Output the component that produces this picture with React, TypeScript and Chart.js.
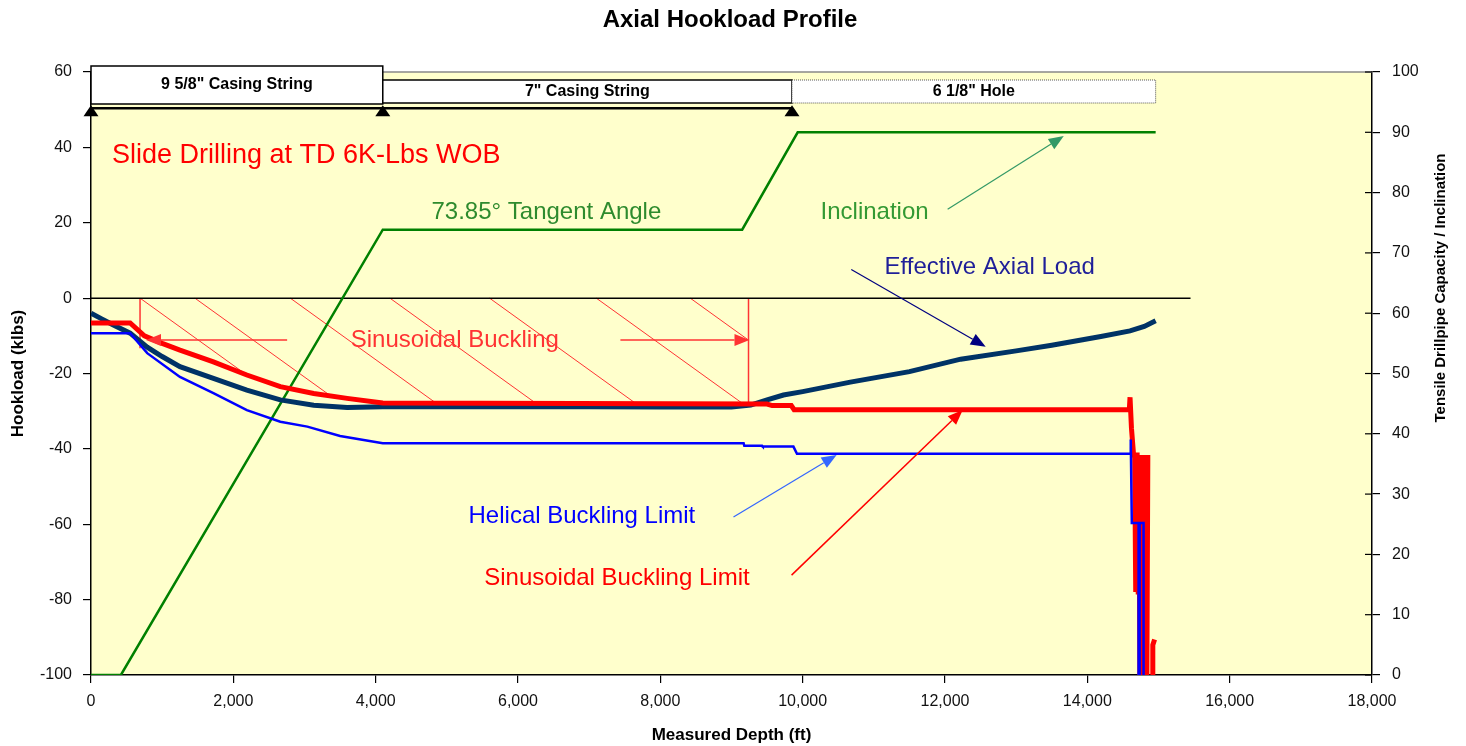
import React, { useEffect, useRef } from "react";
import { Chart, registerables } from "chart.js";

Chart.register(...registerables);

const FONT = "'Liberation Sans', Arial, sans-serif";

// ---- tick labels ----
const depthTicks = [0, 2000, 4000, 6000, 8000, 10000, 12000, 14000, 16000, 18000];
const hookloadTicks = [-100, -80, -60, -40, -20, 0, 20, 40, 60];
const inclTicks = [0, 10, 20, 30, 40, 50, 60, 70, 80, 90, 100];

// ---- Inclination (right axis, deg) ----
const inclDepth = [0, 420, 4100, 9150, 9930, 14960];
const inclination = [0, 0, 73.85, 73.85, 90, 90];

// ---- Effective Axial Load (kips) ----
const loadDepth = [0, 150, 300, 550, 790, 1000, 1250, 1720, 2190, 2660, 3130, 3600, 4100, 5000, 6000, 7000, 8000, 9000, 9270, 9500, 9730, 10000, 10670, 11500, 12220, 13000, 13500, 14190, 14600, 14800, 14960];
const effectiveAxialLoad = [-4, -5.5, -7, -9.3, -13, -15.5, -18.2, -21.3, -24.4, -27, -28.4, -29, -28.8, -28.8, -28.8, -28.8, -28.9, -28.9, -28.4, -27, -25.7, -24.8, -22.3, -19.5, -16.2, -14, -12.5, -10.2, -8.7, -7.5, -6];

// ---- Sinusoidal Buckling Limit (kips) ----
const sinDepth = [0, 550, 750, 1000, 1250, 1720, 2190, 2660, 3130, 3600, 4100, 9500, 9570, 9840, 9880, 14590, 14600, 14620, 14650, 14665, 14680, 14690, 14700, 14715, 14725, 14740, 14755, 14770, 14785, 14800, 14815, 14835, 14850, 14900, 14920, 14920, 14945];
const sinusoidalLimit = [-6.6, -6.6, -10, -12, -13.8, -16.9, -20.4, -23.5, -25.3, -26.6, -27.8, -28.1, -28.5, -28.5, -29.6, -29.6, -26.3, -34.5, -41.6, -41.6, -78, -41.6, -41.6, -78, -41.6, -106, -41.6, -106, -41.6, -106, -41.6, -106, -41.6, null, -106, -92, -90.6];

// ---- Helical Buckling Limit (kips) ----
const helDepth = [0, 550, 790, 1250, 1720, 2190, 2660, 3040, 3500, 4100, 9170, 9180, 9430, 9440, 9870, 9920, 14600, 14610, 14625, 14720, 14720, 14735, 14735, 14790, 14790];
const helicalLimit = [-9.3, -9.3, -14.6, -20.9, -25.2, -29.7, -32.8, -34.1, -36.6, -38.5, -38.5, -39.2, -39.2, -39.4, -39.4, -41.3, -41.3, -37.5, -59.7, -59.7, -106, -106, -59.7, -59.7, -106];

// ---- zero reference line ----
const zeroDepth = [0, 15450];
const zeroLoad = [0, 0];

// ---- casing sections ----
const sectionLabels = ['9 5/8" Casing String', '7" Casing String', '6 1/8" Hole'];
const sectionStart = [0, 4100, 9850];
const sectionEnd = [4100, 9850, 14960];
const shoeDepths = [0, 4100, 9850];
const shoeLevel = 50.4;

// ---- sinusoidal buckling zone ----
const bucklingZoneStart = 689;
const bucklingZoneEnd = 9239;
const hatchStarts = [689, 1460, 2800, 4200, 5600, 7100, 8420];
const hatchSlope = 13.6; // kips per 1000 ft

// ---- annotation arrows ----
const arrowFromDepth = [12037, 10683, 9028, 9844, 2756, 7439];
const arrowFromLoad = [23.6, 7.6, -58.1, -73.5, -11.1, -11.1];
const arrowToDepth = [13669, 12572, 10477, 12249, 773, 9253];
const arrowToLoad = [43.0, -12.9, -41.6, -29.7, -11.1, -11.1];
const arrowColors = ["#339966", "#000080", "#3366FF", "#FF0000", "#FF3333", "#FF3333"];

// ---- annotation texts ----
const noteText = ["Slide Drilling at TD 6K-Lbs WOB", "73.85° Tangent Angle", "Inclination", "Effective Axial Load", "Sinusoidal Buckling", "Helical Buckling Limit", "Sinusoidal Buckling Limit"];
const noteDepth = [295, 6399, 11011, 12628, 5112, 6898, 7390];
const noteLoad = [37.9, 22.8, 22.8, 8.2, -11.1, -57.8, -74.3];
const noteColors = ["#FF0000", "#2E8B2E", "#339933", "#1F1F99", "#FF3333", "#0000FF", "#FF0000"];

const pts = (xs: number[], ys: (number | null)[]) => ys.map((y, i) => ({ x: xs[i], y }));

function sinAt(d: number): number {
  for (let i = 1; i < sinDepth.length; i++) {
    if (sinDepth[i] >= d) {
      const d0 = sinDepth[i - 1], d1 = sinDepth[i];
      const v0 = sinusoidalLimit[i - 1] as number, v1 = sinusoidalLimit[i] as number;
      if (d1 === d0) return v1;
      return v0 + ((v1 - v0) * (d - d0)) / (d1 - d0);
    }
  }
  return sinusoidalLimit[sinusoidalLimit.length - 1] as number;
}

function arrow(ctx: CanvasRenderingContext2D, x1: number, y1: number, x2: number, y2: number, color: string, lw: number, hl: number, hw: number) {
  const ang = Math.atan2(y2 - y1, x2 - x1);
  const bx = x2 - hl * Math.cos(ang), by = y2 - hl * Math.sin(ang);
  ctx.strokeStyle = color;
  ctx.lineWidth = lw;
  ctx.beginPath();
  ctx.moveTo(x1, y1);
  ctx.lineTo(bx, by);
  ctx.stroke();
  ctx.fillStyle = color;
  ctx.beginPath();
  ctx.moveTo(x2, y2);
  ctx.lineTo(bx + hw * Math.sin(ang), by - hw * Math.cos(ang));
  ctx.lineTo(bx - hw * Math.sin(ang), by + hw * Math.cos(ang));
  ctx.closePath();
  ctx.fill();
}

const overlay = {
  id: "overlay",
  beforeDraw(chart: any) {
    const { ctx, chartArea: a } = chart;
    ctx.save();
    ctx.fillStyle = "#FFFFFF";
    ctx.fillRect(0, 0, chart.width, chart.height);
    ctx.fillStyle = "#FFFFCC";
    ctx.fillRect(a.left, a.top, a.right - a.left, a.bottom - a.top);
    ctx.restore();
  },
  beforeDatasetsDraw(chart: any) {
    const { ctx } = chart;
    const sx = chart.scales.x, sy = chart.scales.y;
    ctx.save();
    ctx.strokeStyle = "#FF3333";
    ctx.lineWidth = 1;
    hatchStarts.forEach((s) => {
      let endD = s;
      for (let d = s; d <= bucklingZoneEnd; d += 5) {
        endD = d;
        const lv = -(d - s) * hatchSlope / 1000;
        if (lv <= sinAt(d)) break;
      }
      const endV = -(endD - s) * hatchSlope / 1000;
      ctx.beginPath();
      ctx.moveTo(sx.getPixelForValue(s), sy.getPixelForValue(0));
      ctx.lineTo(sx.getPixelForValue(endD), sy.getPixelForValue(endV));
      ctx.stroke();
    });
    ctx.lineWidth = 1.5;
    [bucklingZoneStart, bucklingZoneEnd].forEach((d, i) => {
      const bottom = i === 0 ? -13.3 : sinAt(d);
      ctx.beginPath();
      ctx.moveTo(sx.getPixelForValue(d), sy.getPixelForValue(0));
      ctx.lineTo(sx.getPixelForValue(d), sy.getPixelForValue(bottom));
      ctx.stroke();
    });
    ctx.restore();
  },
  afterDraw(chart: any) {
    const { ctx, chartArea: a } = chart;
    const sx = chart.scales.x, sy = chart.scales.y, sy2 = chart.scales.y2;
    ctx.save();
    ctx.strokeStyle = "#888888";
    ctx.lineWidth = 1.5;
    ctx.beginPath();
    ctx.moveTo(a.left, a.top);
    ctx.lineTo(a.right, a.top);
    ctx.stroke();
    ctx.strokeStyle = "#000";
    ctx.lineWidth = 1.2;
    inclTicks.forEach((v) => {
      const y = sy2.getPixelForValue(v);
      ctx.beginPath();
      ctx.moveTo(a.right - 7, y);
      ctx.lineTo(a.right, y);
      ctx.stroke();
    });

    for (let i = 0; i < arrowFromDepth.length; i++) {
      arrow(
        ctx,
        sx.getPixelForValue(arrowFromDepth[i]),
        sy.getPixelForValue(arrowFromLoad[i]),
        sx.getPixelForValue(arrowToDepth[i]),
        sy.getPixelForValue(arrowToLoad[i]),
        arrowColors[i],
        i >= 3 ? 1.5 : 1.2,
        15,
        6
      );
    }

    ctx.textBaseline = "middle";
    for (let i = 0; i < noteText.length; i++) {
      ctx.fillStyle = noteColors[i];
      ctx.font = (i === 0 ? "27px " : "24px ") + FONT;
      ctx.textAlign = i === 0 ? "left" : "center";
      ctx.fillText(noteText[i], sx.getPixelForValue(noteDepth[i]), sy.getPixelForValue(noteLoad[i]));
    }

    const shoeY = sy.getPixelForValue(shoeLevel);
    ctx.fillStyle = "#000";
    shoeDepths.forEach((d) => {
      const x = sx.getPixelForValue(d);
      ctx.beginPath();
      ctx.moveTo(x, shoeY - 3);
      ctx.lineTo(x + 7.5, shoeY + 8);
      ctx.lineTo(x - 7.5, shoeY + 8);
      ctx.closePath();
      ctx.fill();
    });

    const boxTop = [a.top - 6, a.top + 8, a.top + 8];
    const boxBottom = [a.top + 32, a.top + 31, a.top + 31];
    for (let i = 0; i < sectionLabels.length; i++) {
      const x0 = sx.getPixelForValue(sectionStart[i]);
      const x1 = sx.getPixelForValue(sectionEnd[i]);
      ctx.fillStyle = "#FFFFFF";
      ctx.fillRect(x0, boxTop[i], x1 - x0, boxBottom[i] - boxTop[i]);
      ctx.strokeStyle = i === 2 ? "#555" : "#000";
      ctx.lineWidth = i === 2 ? 1 : 1.5;
      ctx.setLineDash(i === 2 ? [1, 1] : []);
      ctx.strokeRect(x0, boxTop[i], x1 - x0, boxBottom[i] - boxTop[i]);
      ctx.setLineDash([]);
      ctx.fillStyle = "#000";
      ctx.font = "bold 16px " + FONT;
      ctx.textAlign = "center";
      ctx.textBaseline = "middle";
      ctx.fillText(sectionLabels[i], (x0 + x1) / 2, (boxTop[i] + boxBottom[i]) / 2);
    }

    ctx.fillStyle = "#000";
    ctx.font = "bold 24px " + FONT;
    ctx.textAlign = "center";
    ctx.textBaseline = "middle";
    ctx.fillText("Axial Hookload Profile", 730, 20);

    ctx.save();
    ctx.translate(1441, 288);
    ctx.rotate(-Math.PI / 2);
    ctx.font = "bold 15px " + FONT;
    ctx.fillText("Tensile Drillpipe Capacity / Inclination", 0, 0);
    ctx.restore();

    ctx.restore();
  },
};

export default function App() {
  const ref = useRef<HTMLCanvasElement | null>(null);

  useEffect(() => {
    document.body.style.margin = "0";
    const canvas = ref.current;
    if (!canvas) return;
    const tickFont = { family: FONT, size: 16 };
    const chart = new Chart(canvas, {
      type: "line",
      data: {
        datasets: [
          {
            label: "Helical Buckling Limit",
            data: pts(helDepth, helicalLimit),
            borderColor: "#0000FF",
            borderWidth: 2.5,
            yAxisID: "y",
            order: 0,
            clip: 0,
          },
          {
            label: "Sinusoidal Buckling Limit",
            data: pts(sinDepth, sinusoidalLimit),
            borderColor: "#FF0000",
            borderWidth: 5,
            yAxisID: "y",
            order: 1,
            clip: 0,
            spanGaps: false,
          },
          {
            label: "Effective Axial Load",
            data: pts(loadDepth, effectiveAxialLoad),
            borderColor: "#003366",
            borderWidth: 5,
            yAxisID: "y",
            order: 2,
          },
          {
            label: "Inclination",
            data: pts(inclDepth, inclination),
            borderColor: "#008000",
            borderWidth: 2.5,
            yAxisID: "y2",
            order: 4,
          },
          {
            label: "Zero",
            data: pts(zeroDepth, zeroLoad),
            borderColor: "#000000",
            borderWidth: 1.5,
            yAxisID: "y",
            order: 5,
          },
          {
            label: "Casing shoes",
            data: shoeDepths.map((d) => ({ x: d, y: shoeLevel })),
            borderColor: "#000000",
            borderWidth: 2.5,
            yAxisID: "y",
            order: 6,
            clip: false,
          },
        ] as any,
      },
      options: {
        responsive: false,
        animation: false,
        devicePixelRatio: 1,
        layout: { padding: { top: 72, left: 0, right: 0, bottom: 0 } },
        elements: { point: { radius: 0 }, line: { tension: 0 } },
        plugins: { legend: { display: false }, tooltip: { enabled: false }, title: { display: false } },
        scales: {
          x: {
            type: "linear",
            min: 0,
            max: 18000,
            afterBuildTicks: (s: any) => {
              s.ticks = depthTicks.map((v) => ({ value: v }));
            },
            afterFit: (s: any) => {
              s.height = 71;
            },
            ticks: {
              font: tickFont,
              color: "#111",
              padding: 9,
              maxRotation: 0,
              autoSkip: false,
              callback: (v: any) => Number(v).toLocaleString("en-US"),
            },
            grid: { drawOnChartArea: false, drawTicks: true, tickLength: 8, color: "#000", lineWidth: 1.2 },
            border: { display: true, color: "#000", width: 1.5 },
            title: {
              display: true,
              text: "Measured Depth (ft)",
              font: { family: FONT, size: 17, weight: "bold" },
              color: "#000",
              padding: { top: 2, bottom: 0 },
            },
          },
          y: {
            type: "linear",
            position: "left",
            min: -100,
            max: 60,
            afterBuildTicks: (s: any) => {
              s.ticks = hookloadTicks.map((v) => ({ value: v }));
            },
            afterFit: (s: any) => {
              s.width = 91;
            },
            ticks: { font: tickFont, color: "#111", padding: 11 },
            grid: { drawOnChartArea: false, drawTicks: true, tickLength: 8, color: "#000", lineWidth: 1.2 },
            border: { display: true, color: "#000", width: 1.5 },
            title: {
              display: true,
              text: "Hookload (klbs)",
              font: { family: FONT, size: 17, weight: "bold" },
              color: "#000",
              padding: { top: 8, bottom: 0 },
            },
          },
          y2: {
            type: "linear",
            position: "right",
            min: 0,
            max: 100,
            afterBuildTicks: (s: any) => {
              s.ticks = inclTicks.map((v) => ({ value: v }));
            },
            afterFit: (s: any) => {
              s.width = 94;
            },
            ticks: { font: tickFont, color: "#111", padding: 12 },
            grid: { drawOnChartArea: false, drawTicks: true, tickLength: 8, color: "#000", lineWidth: 1.2 },
            border: { display: true, color: "#000", width: 1.5 },
          },
        },
      } as any,
      plugins: [overlay as any],
    });
    return () => chart.destroy();
  }, []);

  return <canvas ref={ref} width={1466} height={746} style={{ display: "block", width: 1466, height: 746 }} />;
}
